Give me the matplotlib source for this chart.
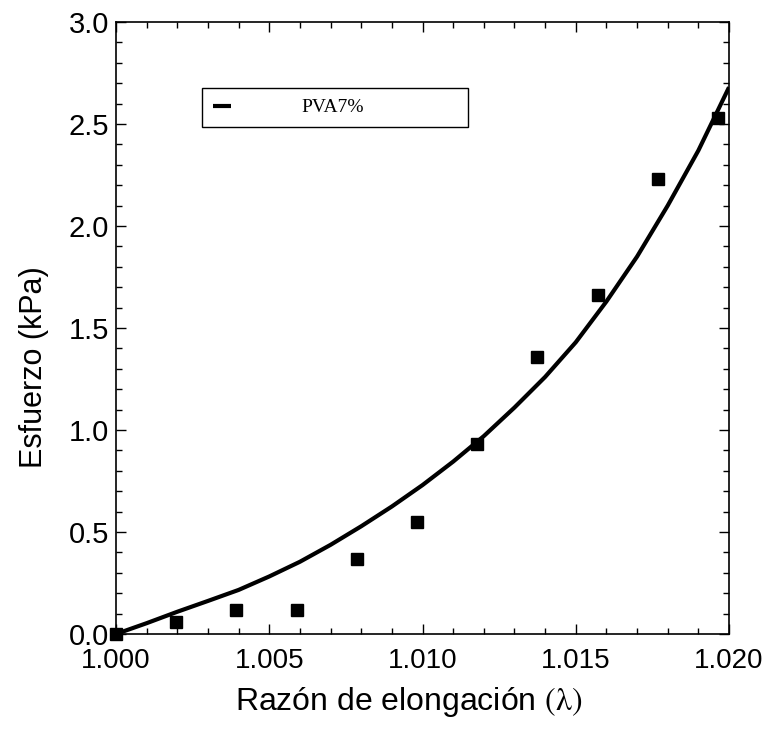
import matplotlib
matplotlib.use("Agg")
import matplotlib.pyplot as plt
from matplotlib.ticker import MultipleLocator, FormatStrFormatter
from matplotlib.lines import Line2D

# Experimental data (squares)
exp_x = [1.0, 1.00196, 1.00393, 1.00589, 1.00785, 1.00982, 1.01178, 1.01375, 1.01571, 1.01767, 1.01964]
exp_y = [0.0, 0.06, 0.12, 0.12, 0.37, 0.55, 0.93, 1.36, 1.66, 2.23, 2.53]

# Fitted curve
fit_x = [1.000, 1.001, 1.002, 1.003, 1.004, 1.005, 1.006, 1.007, 1.008, 1.009, 1.010,
         1.011, 1.012, 1.013, 1.014, 1.015, 1.016, 1.017, 1.018, 1.019, 1.020]
fit_y = [0.0, 0.053, 0.109, 0.162, 0.216, 0.282, 0.354, 0.437, 0.528, 0.625, 0.73,
         0.845, 0.97, 1.11, 1.26, 1.43, 1.63, 1.85, 2.10, 2.37, 2.68]

legend_label = "PVA7%"
xlabel = r"Razón de elongación $(\mathrm{\lambda})$"
ylabel = "Esfuerzo (kPa)"

plt.rcParams['font.family'] = ['Liberation Sans', 'DejaVu Sans']
plt.rcParams['mathtext.fontset'] = 'stix'

fig = plt.figure(figsize=(7.74, 7.32), dpi=100)
ax = fig.add_axes([0.1499, 0.1339, 0.7920, 0.8361])

ax.plot(fit_x, fit_y, color='black', lw=3.0, solid_capstyle='butt',
        solid_joinstyle='round', zorder=3)
ax.plot(exp_x, exp_y, linestyle='none', marker='s', color='black',
        markersize=8.5, zorder=4, clip_on=False)

ax.set_xlim(1.0, 1.020)
ax.set_ylim(0.0, 3.0)
ax.xaxis.set_major_locator(MultipleLocator(0.005))
ax.xaxis.set_minor_locator(MultipleLocator(0.001))
ax.yaxis.set_major_locator(MultipleLocator(0.5))
ax.yaxis.set_minor_locator(MultipleLocator(0.1))
ax.xaxis.set_major_formatter(FormatStrFormatter('%.3f'))
ax.yaxis.set_major_formatter(FormatStrFormatter('%.1f'))

ax.tick_params(which='both', direction='in', top=True, right=True, width=1.0, color='black')
ax.tick_params(which='major', length=7)
ax.tick_params(which='minor', length=4.5)
ax.tick_params(axis='x', which='major', labelsize=20, pad=10)
ax.tick_params(axis='y', which='major', labelsize=21, pad=5)

for s in ax.spines.values():
    s.set_linewidth(1.2)
    s.set_color('black')

ax.set_xlabel(xlabel, fontsize=23)
ax.set_ylabel(ylabel, fontsize=22)
ax.yaxis.set_label_coords(-0.110, 0.436)
ax.xaxis.set_label_coords(0.477, -0.084)

handle = Line2D([], [], color='black', lw=3.0, solid_capstyle='butt')
leg = ax.legend([handle], [legend_label], loc='upper left',
                bbox_to_anchor=(0.140, 0.892, 0.434, 0.0), mode='expand',
                prop={'family': 'Liberation Serif', 'size': 14},
                handlelength=0.95, handletextpad=3.6, borderpad=0.55,
                borderaxespad=0, fancybox=False, frameon=True,
                framealpha=1.0, edgecolor='black')
leg.get_frame().set_linewidth(1.0)

fig.savefig("out.png", dpi=100)
